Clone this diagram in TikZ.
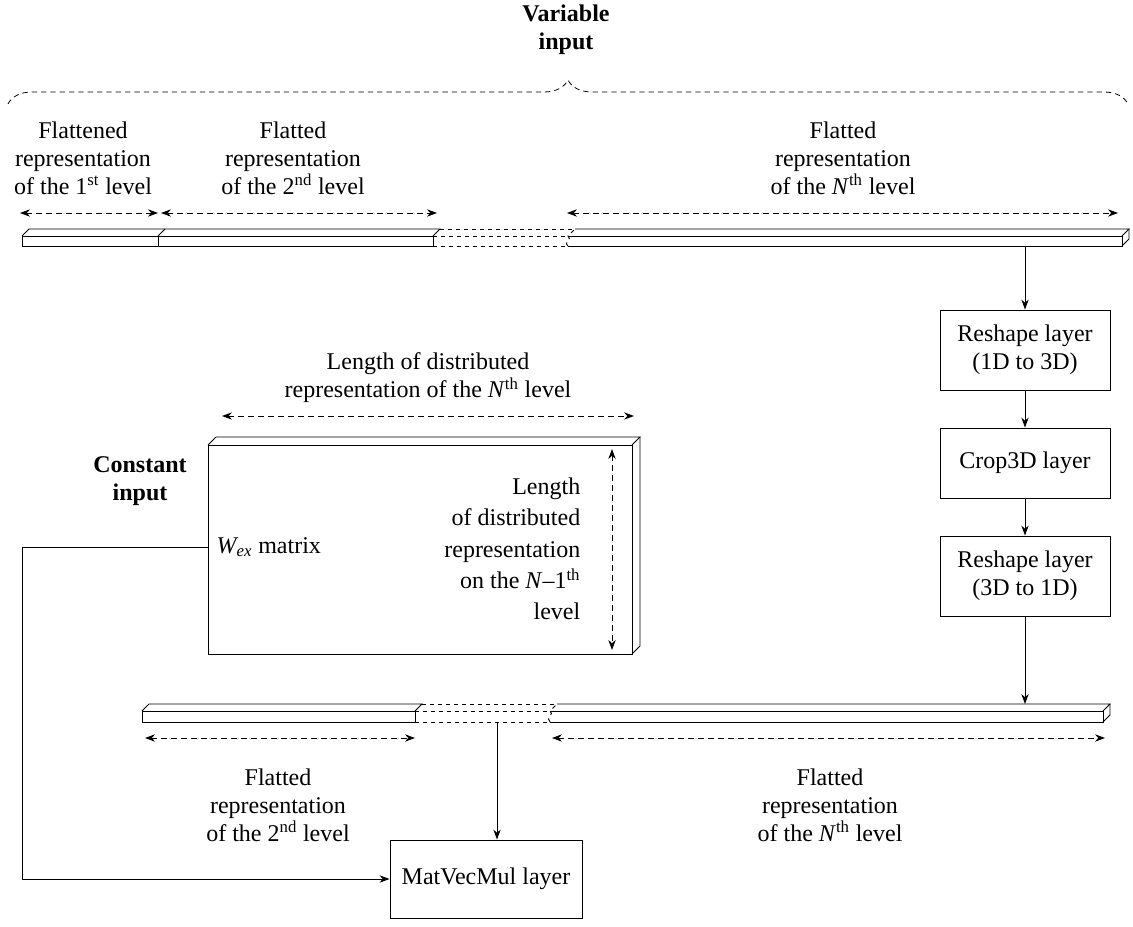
\documentclass[tikz,border=0pt]{standalone}
\usepackage{fontspec}
\setmainfont{Liberation Serif}
\usetikzlibrary{positioning,arrows.meta,decorations.pathreplacing}

\begin{document}
\begin{tikzpicture}[x=0.75pt,y=-0.75pt,
	every node/.style={font=\fontsize{18}{21}\selectfont},
	lbl/.style={align=center},
	layer/.style={draw,line width=0.7pt,minimum width=127.5pt,minimum height=60pt,align=center},
	dim/.style={dash pattern=on 4.5pt off 3pt,line width=0.6pt,{Stealth[length=7.5pt,width=5.5pt]}-{Stealth[length=7.5pt,width=5.5pt]}},
	flow/.style={line width=0.7pt,-{Stealth[length=7.5pt,width=5.5pt]}},
	bar/.style={line width=0.7pt}]
		\useasboundingbox (0,0) rectangle (1133,927);
		
		% variable input
		\node[lbl,font=\fontsize{18}{21}\selectfont\bfseries] (var) at (566,30) {Variable\\input};
		\draw[dash pattern=on 4pt off 3pt,line width=0.6pt,decorate,decoration={brace,amplitude=18pt}] (8,104) -- (1128,104);
		
		\node[lbl] (lev1) at (83,158) {Flattened\\representation\\of the 1\textsuperscript{st} level};
		\node[lbl] (lev2) at (293,158) {Flatted\\representation\\of the 2\textsuperscript{nd} level};
		\node[lbl] (levN) at (843,158) {Flatted\\representation\\of the \textit{N}\textsuperscript{th} level};
		
		\coordinate (a1) at (20,213);
		\coordinate (a2) at (158,213);
		\coordinate (a3) at (161,213);
		\coordinate (a4) at (437,213);
		\coordinate (a5) at (567,213);
		\coordinate (a6) at (1118,213);
		\draw[dim] (a1) -- (a2);
		\draw[dim] (a3) -- (a4);
		\draw[dim] (a5) -- (a6);
		
		% upper bar
		\draw[bar] (22,236) rectangle (433,246);
		\draw[bar] (22,236) -- (29,229) -- (440,229) -- (433,236);
		\draw[bar] (158,236) -- (165,229);
		\draw[bar] (158,236) -- (158,246);
		\draw[bar,dashed] (440,229) -- (575,229) (433,236) -- (568,236) (433,246) -- (568,246);
		\draw[bar,dashed] (568,246) .. controls (563,242) and (573,239) .. (568,236) -- (575,229);
		\draw[bar] (568,236) -- (1122,236) -- (1122,246) -- (568,246);
		\draw[bar] (575,229) -- (1129,229) -- (1122,236);
		\draw[bar] (1129,229) -- (1129,239) -- (1122,246);
		\coordinate (topout) at (1025,246);
		
		% layers
		\node[layer] (resh1) at (1025,350) {Reshape layer\\(1D to 3D)};
		\node[layer,minimum height=52.5pt] (crop) at (1025,463) {Crop3D layer};
		\node[layer] (resh2) at (1025,576) {Reshape layer\\(3D to 1D)};
		\draw[flow] (topout) -- (resh1);
		\draw[flow] (resh1) -- (crop);
		\draw[flow] (crop) -- (resh2);
		
		% constant input
		\node[lbl,font=\fontsize{18}{21}\selectfont\bfseries] (const) at (140,481) {Constant\\input};
		\node[lbl] (lenN) at (428,378) {Length of distributed\\representation of the \textit{N}\textsuperscript{th} level};
		\coordinate (b1) at (222,416);
		\coordinate (b2) at (634,416);
		\draw[dim] (b1) -- (b2);
		
		\draw[bar] (208,445) rectangle (632,654);
		\draw[bar] (208,445) -- (216,437) -- (640,437) -- (632,445);
		\draw[bar] (640,437) -- (640,646) -- (632,654);
		\coordinate (wex) at (208,547);
		\node[anchor=west] (wexl) at (212,547) {\textit{W\textsubscript{ex}} matrix};
		\node[lbl,align=right,anchor=east,font=\fontsize{18}{23.5}\selectfont] (lenN1) at (585,549) {Length\\of distributed\\representation\\on the \textit{N}--1\textsuperscript{th}\\level};
		\coordinate (c1) at (612,449);
		\coordinate (c2) at (612,650);
		\draw[dim] (c1) -- (c2);
		
		% lower bar
		\coordinate (botin) at (1025,704);
		\draw[flow] (resh2) -- (botin);
		\draw[bar] (142,711) rectangle (415,722);
		\draw[bar] (142,711) -- (149,704) -- (422,704) -- (415,711);
		\draw[bar,dashed] (422,704) -- (557,704) (415,711) -- (550,711) (415,722) -- (550,722);
		\draw[bar,dashed] (550,722) .. controls (545,718) and (555,714) .. (550,711) -- (557,704);
		\draw[bar] (550,711) -- (1103,711) -- (1103,722) -- (550,722);
		\draw[bar] (557,704) -- (1110,704) -- (1103,711);
		\draw[bar] (1110,704) -- (1110,715) -- (1103,722);
		\coordinate (botgap) at (497,722);
		
		\coordinate (d1) at (145,738);
		\coordinate (d2) at (415,738);
		\coordinate (d3) at (552,738);
		\coordinate (d4) at (1105,738);
		\draw[dim] (d1) -- (d2);
		\draw[dim] (d3) -- (d4);
		
		\node[lbl] (blev2) at (278,805) {Flatted\\representation\\of the 2\textsuperscript{nd} level};
		\node[lbl] (blevN) at (830,805) {Flatted\\representation\\of the \textit{N}\textsuperscript{th} level};
		
		% matvecmul
		\node[layer,minimum width=144pt,minimum height=58.5pt] (mvm) at (486,879) {MatVecMul layer};
		\draw[flow] (botgap) -- (botgap |- mvm.north);
		\coordinate (lft) at (22,547);
		\draw[flow] (wex) -- (lft) |- (mvm.west);
\end{tikzpicture}
\end{document}
